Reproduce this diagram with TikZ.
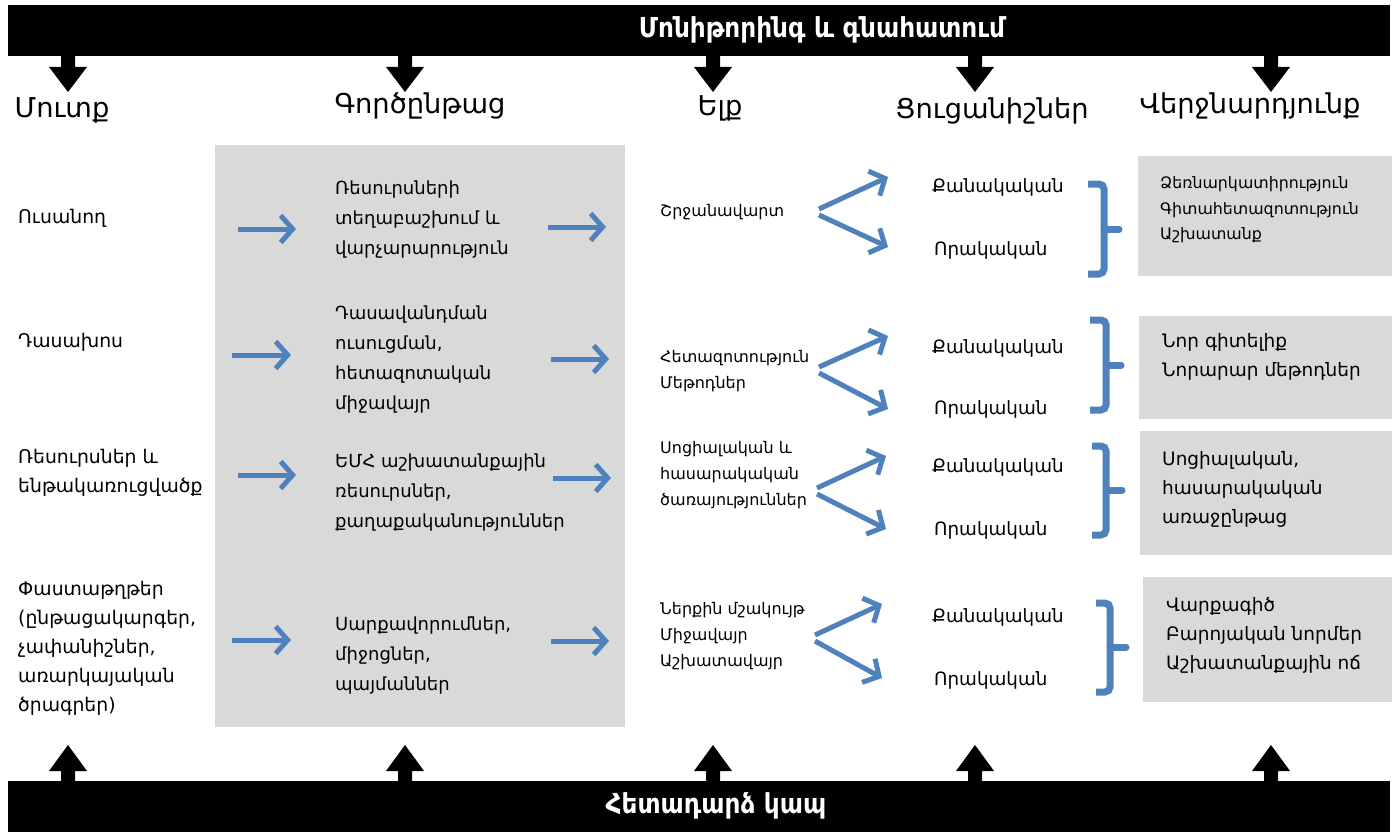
\documentclass[tikz,border=0pt]{standalone}
\usepackage{fontspec}
\setmainfont{DejaVu Sans}
\newfontfamily\condfont{DejaVu Sans Condensed}
\usetikzlibrary{arrows.meta}
\definecolor{arrblue}{HTML}{4F81BD}
\definecolor{panelgray}{HTML}{D9D9D9}
\tikzset{
  lefttxt/.style={anchor=west, align=left, inner sep=0pt, font=\fontsize{18.8}{29}\selectfont},
  proctxt/.style={anchor=west, align=left, inner sep=0pt, font=\fontsize{18}{30}\selectfont},
  outtxt/.style={anchor=west, align=left, inner sep=0pt, font=\fontsize{16}{26}\selectfont},
  indtxt/.style={anchor=west, inner sep=0pt, font=\fontsize{18.3}{23}\selectfont},
  restxt/.style={anchor=west, align=left, inner sep=0pt, font=\fontsize{18.5}{29}\selectfont},
  ressmall/.style={anchor=west, align=left, inner sep=0pt, font=\fontsize{15.8}{25.5}\selectfont},
  hdr/.style={inner sep=0pt, font=\fontsize{27.3}{32}\selectfont},
  barttl/.style={inner sep=0pt, text=white, font=\condfont\bfseries\fontsize{27.5}{30}\selectfont},
  bluearrow/.style={draw=arrblue, line width=5pt, -{Straight Barb[length=12pt,width=27pt]}},
  bracepath/.style={draw=arrblue, line width=7pt, rounded corners=5pt},
  bracestub/.style={draw=arrblue, line width=7pt, line cap=round},
}
\begin{document}
\begin{tikzpicture}[x=1pt,y=-1pt]
\useasboundingbox (0,0) rectangle (1397,832);
\fill[white] (0,0) rectangle (1397,832);
% bars
\fill[black] (8,5) rectangle (1390,56);
\fill[black] (8,781) rectangle (1390,832);
\node[barttl] (top) at (822,30) {Մոնիթորինգ և գնահատում};
\node[barttl] (bottom) at (716,806) {Հետադարձ կապ};
\foreach \x in {68,405,713,975,1271}{
  \fill[black] (\x-7,55) -- (\x-7,67) -- (\x-19,67) -- (\x,92) -- (\x+19,67) -- (\x+7,67) -- (\x+7,55) -- cycle;
  \fill[black] (\x-7,782) -- (\x-7,771) -- (\x-19,771) -- (\x,745) -- (\x+19,771) -- (\x+7,771) -- (\x+7,782) -- cycle;
}
% headers
\node[hdr] (h1) at (62,110) {Մուտք};
\node[hdr] (h2) at (420,106) {Գործընթաց};
\node[hdr] (h3) at (720,108) {Ելք};
\node[hdr] (h4) at (992,111) {Ցուցանիշներ};
\node[hdr] (h5) at (1250,106) {Վերջնարդյունք};
% panels
\fill[panelgray] (215,145) rectangle (625,727);
\fill[panelgray] (1138,156) rectangle (1392,276);
\fill[panelgray] (1139,316) rectangle (1392,419);
\fill[panelgray] (1140,431) rectangle (1392,555);
\fill[panelgray] (1143,577) rectangle (1392,702);
% left column
\node[lefttxt] (in1) at (18,218) {Ուսանող};
\node[lefttxt] (in2) at (18,342) {Դասախոս};
\node[lefttxt] (in3) at (18,473) {Ռեսուրսներ և\\ենթակառուցվածք};
\node[lefttxt] (in4) at (18,648) {Փաստաթղթեր\\(ընթացակարգեր,\\չափանիշներ,\\առարկայական\\ծրագրեր)};
% process
\node[proctxt] (p1) at (335,220) {Ռեսուրսների\\տեղաբաշխում և\\վարչարարություն};
\node[proctxt] (p2) at (335,360) {Դասավանդման\\ուսուցման,\\հետազոտական\\միջավայր};
\node[proctxt] (p3) at (335,493) {ԵՄՀ աշխատանքային\\ռեսուրսներ,\\քաղաքականություններ};
\node[proctxt] (p4) at (335,656) {Սարքավորումներ,\\միջոցներ,\\պայմաններ};
% outputs
\node[outtxt] (o1) at (660,212) {Շրջանավարտ};
\node[outtxt] (o2) at (660,371) {Հետազոտություն\\Մեթոդներ};
\node[outtxt] (o3) at (660,475) {Սոցիալական և\\հասարակական\\ծառայություններ};
\node[outtxt] (o4) at (660,636) {Ներքին մշակույթ\\Միջավայր\\Աշխատավայր};
% indicators
\node[indtxt] (q1) at (932,187) {Քանակական};
\node[indtxt] (r1) at (934,250) {Որակական};
\node[indtxt] (q2) at (932,348) {Քանակական};
\node[indtxt] (r2) at (934,409) {Որակական};
\node[indtxt] (q3) at (932,467) {Քանակական};
\node[indtxt] (r3) at (934,530) {Որակական};
\node[indtxt] (q4) at (932,617) {Քանակական};
\node[indtxt] (r4) at (934,680) {Որակական};
% results
\node[ressmall] (res1) at (1160,210) {Ձեռնարկատիրություն\\Գիտահետազոտություն\\Աշխատանք};
\node[restxt] (res2) at (1162,357) {Նոր գիտելիք\\Նորարար մեթոդներ};
\node[restxt] (res3) at (1162,489) {Սոցիալական,\\հասարակական\\առաջընթաց};
\node[restxt] (res4) at (1166,635) {Վարքագիծ\\Բարոյական նորմեր\\Աշխատանքային ոճ};
% horizontal arrows
\coordinate (a1s) at (238,229); \coordinate (a1e) at (296,229);
\coordinate (a2s) at (232,355); \coordinate (a2e) at (291,355);
\coordinate (a3s) at (238,475); \coordinate (a3e) at (296,475);
\coordinate (a4s) at (232,640); \coordinate (a4e) at (291,640);
\coordinate (b1s) at (548,227); \coordinate (b1e) at (606,227);
\coordinate (b2s) at (551,359); \coordinate (b2e) at (609,359);
\coordinate (b3s) at (553,478); \coordinate (b3e) at (611,478);
\coordinate (b4s) at (551,641); \coordinate (b4e) at (609,641);
\foreach \s in {a1,a2,a3,a4,b1,b2,b3,b4}{
  \draw[bluearrow] (\s s) -- (\s e);
}
% forks
\coordinate (f1) at (819,209); \coordinate (f1l) at (819,215); \coordinate (f1u) at (888,177); \coordinate (f1d) at (888,247);
\coordinate (f2) at (819,367); \coordinate (f2l) at (819,373); \coordinate (f2u) at (888,336); \coordinate (f2d) at (888,409);
\coordinate (f3) at (817,488); \coordinate (f3l) at (817,494); \coordinate (f3u) at (886,456); \coordinate (f3d) at (886,529);
\coordinate (f4) at (815,635); \coordinate (f4l) at (815,641); \coordinate (f4u) at (882,604); \coordinate (f4d) at (882,678);
\foreach \s in {f1,f2,f3,f4}{
  \draw[bluearrow] (\s) -- (\s u);
  \draw[bluearrow] (\s l) -- (\s d);
}
% braces
\foreach \xa/\xb/\xc/\yt/\ym/\yb in {1088/1104/1119/184/229/274, 1090/1106/1121/320/365/410, 1092/1106/1122/446/490/535, 1096/1110/1126/603/647/692}{
  \draw[bracepath] (\xa,\yt) -- (\xb,\yt) -- (\xb,\yb) -- (\xa,\yb);
  \draw[bracestub] (\xb,\ym) -- (\xc,\ym);
}
\end{tikzpicture}
\end{document}
